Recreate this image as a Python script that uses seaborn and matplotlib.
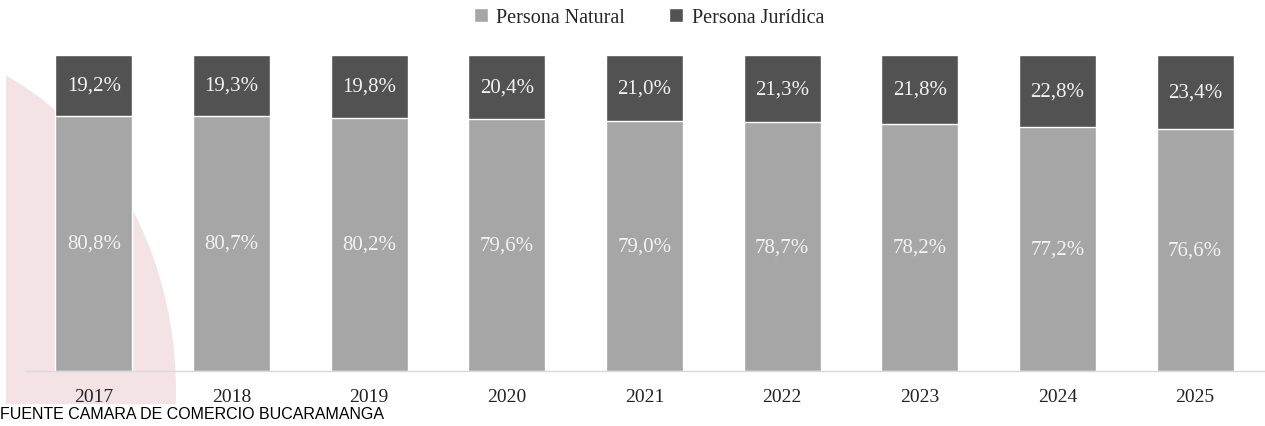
import matplotlib
matplotlib.use("Agg")
import matplotlib.pyplot as plt
from matplotlib.patches import Ellipse, Rectangle
import seaborn as sns
import pandas as pd

# Data
years = ["2017", "2018", "2019", "2020", "2021", "2022", "2023", "2024", "2025"]
natural = [80.8, 80.7, 80.2, 79.6, 79.0, 78.7, 78.2, 77.2, 76.6]
juridica = [19.2, 19.3, 19.8, 20.4, 21.0, 21.3, 21.8, 22.8, 23.4]

LIGHT = "#a6a6a6"
DARK = "#525252"
PINK = "#f3e3e5"

df = pd.DataFrame({"year": years, "natural": natural, "juridica": juridica})
df["total"] = df["natural"] + df["juridica"]

sns.set_style("white")
plt.rcParams["font.family"] = ["Liberation Serif", "DejaVu Serif"]

fig = plt.figure(figsize=(12.65, 4.27), dpi=100)

# decorative pink shape in the background (pixel coords)
bg = fig.add_axes([0, 0, 1, 1], zorder=0)
bg.set_xlim(0, 1265)
bg.set_ylim(427, 0)
bg.axis("off")
clip = Rectangle((6, 0), 400, 405, transform=bg.transData)
blob = Ellipse((-124, 392), 600, 700, facecolor=PINK, edgecolor="none")
bg.add_patch(blob)
blob.set_clip_path(clip)

ax = fig.add_axes([25 / 1265, 55 / 427, 1239 / 1265, 316 / 427], zorder=1)
ax.patch.set_alpha(0)

sns.barplot(data=df, x="year", y="total", color=DARK, width=0.56,
            saturation=1, ax=ax, label="Persona Jurídica")
sns.barplot(data=df, x="year", y="natural", color=LIGHT, width=0.56,
            saturation=1, ax=ax, label="Persona Natural")
if ax.get_legend() is not None:
    ax.get_legend().remove()

ax.set_xlim(-0.5, 8.5)
ax.set_ylim(0, 100)

# value labels inside each segment
for i, (n, j) in enumerate(zip(natural, juridica)):
    ax.text(i, n / 2, f"{n:.1f}%".replace(".", ","), ha="center", va="center",
            color="#f2f2f2", fontsize=15)
    ax.text(i, n + j / 2, f"{j:.1f}%".replace(".", ","), ha="center", va="center",
            color="#f2f2f2", fontsize=15)

ax.set_xlabel("")
ax.set_ylabel("")
ax.set_yticks([])
ax.tick_params(axis="x", length=0, pad=12, labelsize=14, labelcolor="#222222")
for side in ["top", "right", "left"]:
    ax.spines[side].set_visible(False)
ax.spines["bottom"].set_color("#d9d9d9")
ax.spines["bottom"].set_linewidth(1)

handles, labels = ax.get_legend_handles_labels()
order = [labels.index("Persona Natural"), labels.index("Persona Jurídica")]
fig.legend([handles[k] for k in order], [labels[k] for k in order],
           loc="center", bbox_to_anchor=(0.513, 0.957), ncol=2, frameon=False,
           fontsize=14.5, handlelength=0.7, handleheight=0.7, handletextpad=0.4,
           columnspacing=2.2, labelcolor="#262626")

fig.text(0.0, 0.030, "FUENTE CAMARA DE COMERCIO BUCARAMANGA",
         family="Liberation Sans", fontsize=11.5, color="black", ha="left", va="center")

fig.savefig("out.png", dpi=100)
